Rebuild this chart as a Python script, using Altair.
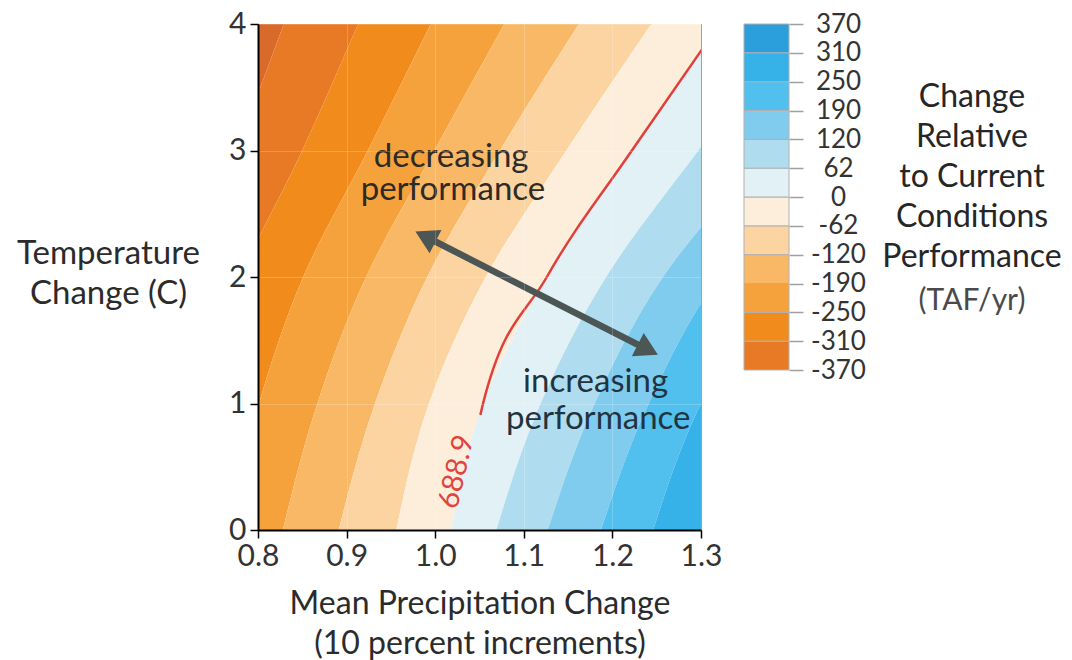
import altair as alt
import pandas as pd

# ---------------- data ----------------
T_VALUES = [0, 1, 2, 3, 4]
LEVELS = [-370, -310, -250, -190, -120, -62, 0, 62, 120, 190, 250, 310, 370]

# x-position (precipitation change) of each contour boundary at T = 0,1,2,3,4
LEFT_EDGE = [0.50, 0.50, 0.50, 0.50, 0.50]
X_M370 = [0.645, 0.668, 0.713, 0.775, 0.829]
X_M310 = [0.702, 0.736, 0.781, 0.850, 0.913]
X_M250 = [0.765, 0.801, 0.851, 0.924, 0.995]
X_M190 = [0.828, 0.867, 0.922, 0.999, 1.078]
X_M120 = [0.891, 0.932, 0.991, 1.073, 1.162]
X_M62 = [0.956, 0.993, 1.057, 1.148, 1.244]
X_0 = [1.018, 1.054, 1.126, 1.222, 1.321]
X_62 = [1.069, 1.119, 1.193, 1.297, 1.404]
X_120 = [1.127, 1.180, 1.257, 1.373, 1.486]
X_190 = [1.187, 1.241, 1.320, 1.447, 1.571]
X_250 = [1.246, 1.300, 1.385, 1.520, 1.650]
X_310 = [1.302, 1.362, 1.452, 1.593, 1.729]
X_370 = [1.362, 1.424, 1.520, 1.667, 1.808]

BAND_NAMES = ["below -370", "-370..-310", "-310..-250", "-250..-190", "-190..-120",
              "-120..-62", "-62..0", "0..62", "62..120", "120..190", "190..250",
              "250..310", "310..370"]
BAND_COLORS = ["#d96a2b", "#e87a25", "#f18c1c", "#f5a23c", "#f8b866", "#fbd4a2",
               "#fdeedb", "#e2f1f5", "#afdcef", "#80ccee", "#52c0ee", "#36b2e9", "#2a9fdb"]

# red reference contour (current conditions, 688.9)
RED_T = [0.91, 1, 2, 3, 4]
RED_X = [1.051, 1.054, 1.126, 1.222, 1.321]
RED_LABEL = ["688.9"]
RED_LABEL_X = [1.024]
RED_LABEL_T = [0.46]

# annotations
ANNOT_TEXT = ["decreasing", "performance", "increasing", "performance"]
ANNOT_X = [1.018, 1.020, 1.181, 1.184]
ANNOT_T = [2.870, 2.605, 1.091, 0.800]
ANNOT_COLOR = ["#2e2a27", "#2e2a27", "#1f3441", "#1f3441"]

ARROW_X = [0.989, 1.240]
ARROW_T = [2.320, 1.425]
ARROW_ANGLE = [297, 117]

X_TICKS = [0.8, 0.9, 1.0, 1.1, 1.2, 1.3]
Y_TICKS = [0, 1, 2, 3, 4]

X_TITLE = ["Mean Precipitation Change", "(10 percent increments)"]
Y_TITLE = ["Temperature", "Change (C)"]
LEGEND_TITLE = ["Change", "Relative", "to Current", "Conditions", "Performance"]
LEGEND_UNIT = "(TAF/yr)"

# ---------------- tables ----------------
bounds = [LEFT_EDGE, X_M370, X_M310, X_M250, X_M190, X_M120, X_M62, X_0,
          X_62, X_120, X_190, X_250, X_310, X_370]
rows = []
for i, name in enumerate(BAND_NAMES):
    for j, t in enumerate(T_VALUES):
        rows.append({"band": name, "order": i, "T": t, "lo": bounds[i][j], "hi": bounds[i + 1][j]})
band_df = pd.DataFrame(rows)

red_df = pd.DataFrame({"T": RED_T, "x": RED_X})
red_lab_df = pd.DataFrame({"T": RED_LABEL_T, "x": RED_LABEL_X, "t": RED_LABEL})
annot_df = pd.DataFrame({"T": ANNOT_T, "x": ANNOT_X, "t": ANNOT_TEXT, "c": ANNOT_COLOR})
arrow_df = pd.DataFrame({"T": ARROW_T, "x": ARROW_X, "a": ARROW_ANGLE})

leg_rows = []
for i in range(len(LEVELS) - 1):
    leg_rows.append({"band": BAND_NAMES[i + 1], "lo": i, "hi": i + 1})
leg_df = pd.DataFrame(leg_rows)

# ---------------- scales / axes ----------------
FONT = "Lato"
x_scale = alt.Scale(domain=[0.8, 1.3], nice=False, zero=False)
y_scale = alt.Scale(domain=[0, 4], nice=False, zero=False)
color_scale = alt.Scale(domain=BAND_NAMES, range=BAND_COLORS)

x_axis = alt.Axis(values=X_TICKS, format=".1f", title=X_TITLE, titleFontSize=32,
                  titleFontWeight="normal", titleColor="#2b2b2b", titleLineHeight=40,
                  titlePadding=17, labelFontSize=30, labelColor="#333333", labelPadding=3,
                  tickSize=8, tickColor="black", tickWidth=1.5, domainColor="black",
                  domainWidth=2, grid=True, gridColor="white", gridOpacity=0.2,
                  labelFlush=False, zindex=1)
y_axis = alt.Axis(values=Y_TICKS, format="d", title=Y_TITLE, titleFontSize=33,
                  titleFontWeight="normal", titleColor="#2b2b2b", titleLineHeight=40,
                  titleAngle=0, titleAlign="center", titleBaseline="alphabetic",
                  titleX=-150, titleY=239, labelFontSize=30, labelColor="#333333",
                  labelPadding=4, tickSize=8, tickColor="black", tickWidth=1.5,
                  domainColor="black", domainWidth=2, grid=True, gridColor="white",
                  gridOpacity=0.2, labelFlush=False, zindex=1)


def X(field):
    return alt.X(field, scale=x_scale, axis=x_axis)


def Y(field):
    return alt.Y(field, scale=y_scale, axis=y_axis)


bands = alt.Chart(band_df).mark_area(orient="horizontal", interpolate="monotone", clip=True).encode(
    y=Y("T:Q"),
    x=X("lo:Q"),
    x2="hi:Q",
    color=alt.Color("band:N", scale=color_scale, legend=None),
    detail="band:N",
)

red_line = alt.Chart(red_df).mark_line(color="#e0403c", strokeWidth=2.5, interpolate="monotone", clip=True).encode(
    x=X("x:Q"),
    y=Y("T:Q"),
    order="T:Q",
)

red_label = alt.Chart(red_lab_df).mark_text(font=FONT, fontSize=29, color="#e0443f", angle=283,
                                             align="center", baseline="middle").encode(
    x=X("x:Q"),
    y=Y("T:Q"),
    text="t:N",
)

arrow_line = alt.Chart(arrow_df).mark_line(color="#4c5655", strokeWidth=6.5).encode(
    x=X("x:Q"),
    y=Y("T:Q"),
)
arrow_heads = alt.Chart(arrow_df).mark_point(shape="triangle-up", size=680, filled=True,
                                              color="#4c5655", opacity=1).encode(
    x=X("x:Q"),
    y=Y("T:Q"),
    angle=alt.Angle("a:Q", scale=None),
)

annot = alt.Chart(annot_df).mark_text(font=FONT, fontSize=33, align="center", baseline="alphabetic").encode(
    x=X("x:Q"),
    y=Y("T:Q"),
    text="t:N",
    color=alt.Color("c:N", scale=None),
)

main = alt.layer(bands, red_line, red_label, arrow_line, arrow_heads, annot).properties(
    width=443, height=506, view=alt.ViewBackground(stroke="#8a8a8a", strokeWidth=1)
)

# ---------------- legend (colour bar) ----------------
label_expr = "[" + ",".join("'%d'" % v for v in LEVELS) + "][datum.value]"
leg_bar = alt.Chart(leg_df).mark_rect(stroke="#b0b0b0", strokeWidth=1).encode(
    y=alt.Y("lo:Q", scale=alt.Scale(domain=[0, 12], nice=False, zero=False),
            axis=alt.Axis(orient="right", values=list(range(13)), labelExpr=label_expr,
                          tickSize=14, tickColor="#a0a0a0", tickWidth=1.5, domain=False,
                          labelFontSize=26, labelColor="#333333", labelAlign="center",
                          labelPadding=35, title=None, grid=False, labelFlush=False)),
    y2="hi:Q",
    x=alt.value(0),
    x2=alt.value(45),
    color=alt.Color("band:N", scale=color_scale, legend=None),
)
leg_title = alt.Chart(pd.DataFrame({"k": [0]})).mark_text(
    font=FONT, fontSize=32, lineHeight=40, align="center", baseline="alphabetic", color="#262626"
).encode(x=alt.value(228), y=alt.value(83), text=alt.value(LEGEND_TITLE))
leg_unit = alt.Chart(pd.DataFrame({"k": [0]})).mark_text(
    font=FONT, fontSize=30, align="center", baseline="alphabetic", color="#4a4a4a"
).encode(x=alt.value(228), y=alt.value(286), text=alt.value(LEGEND_UNIT))

legend = alt.layer(leg_bar, leg_title, leg_unit).properties(width=45, height=346)

chart = alt.hconcat(main, legend, spacing=43, bounds="flush").configure(
    font=FONT, padding={"left": 8, "top": 0, "right": 0, "bottom": 0}
).configure_view(stroke=None)

chart.save("out.html", embed_options={"renderer": "svg", "actions": False})
